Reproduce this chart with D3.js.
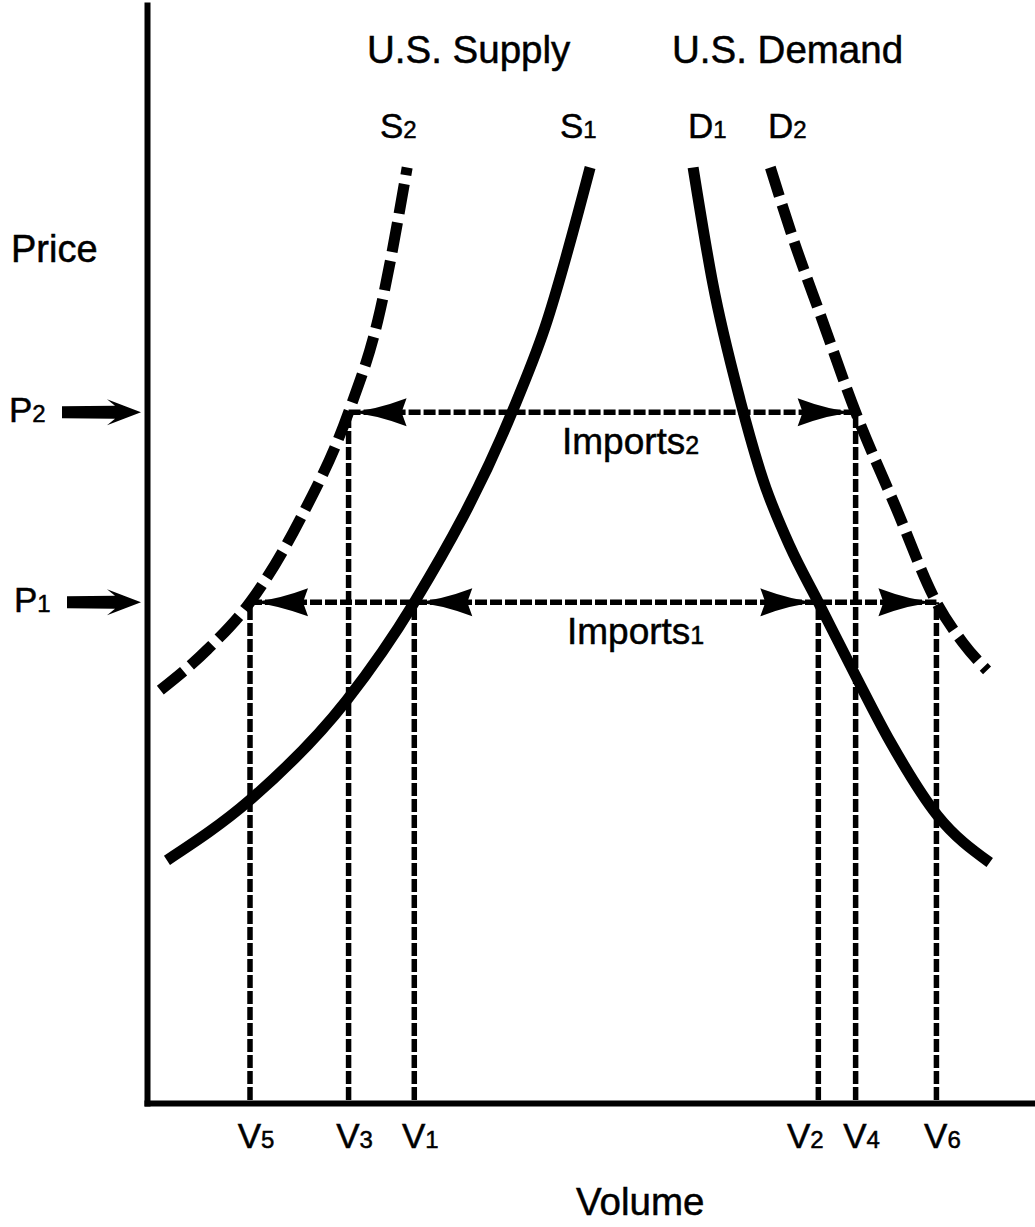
<!DOCTYPE html>
<html>
<head>
<meta charset="utf-8">
<script src="https://cdn.jsdelivr.net/npm/d3@7"></script>
<style>
  body { margin: 0; background: #fff; }
  text { font-family: "Liberation Sans", Arial, Helvetica, sans-serif; fill: #000; stroke: #000; stroke-width: 0.5px; }
</style>
</head>
<body>
<div class="chart"></div>
<script>
// curves as [volume, price]
var supply1 = [[2.25, 22.1], [11.6, 27.6], [22.5, 36.7], [30.1, 45.6], [41.1, 62.9],
               [44.8, 70.6], [49.9, 85.2]];
var supply2 = [[1.5, 37.6], [6.8, 41.3], [11.6, 45.6], [17.2, 53.1], [22.7, 62.9],
               [26.0, 71.3], [29.3, 85.2]];
var demand1 = [[61.5, 85.2], [63.7, 74.7], [66.8, 64.0], [69.4, 56.7], [72.4, 50.7],
               [75.6, 45.6], [79.8, 38.9], [83.7, 32.9], [89.0, 26.2], [94.9, 21.9]];
var demand2 = [[70.2, 85.2], [72.6, 79.1], [76.0, 71.4], [79.8, 62.9], [84.3, 54.3],
               [88.9, 45.6], [91.9, 41.9], [94.6, 39.4]];

// price levels P1, P2
var priceSubs = ["1", "2"];
var priceValues = [45.6, 62.9];

// volume marks V5 V3 V1 V2 V4 V6 and which price level each one reaches
var volumeSubs = ["5", "3", "1", "2", "4", "6"];
var volumeValues = [11.6, 22.7, 30.1, 75.6, 79.8, 88.9];
var volumeLevel = [0, 1, 0, 0, 1, 0];

var svgWidth = 1035;
var svgHeight = 1227;

var svg = d3.select(".chart")
  .append("svg")
  .attr("width", svgWidth)
  .attr("height", svgHeight);

var xScale = d3.scaleLinear().domain([0, 100]).range([147, 1035]);
var yScale = d3.scaleLinear().domain([0, 100]).range([1103, 5]);

// axes without ticks, just the heavy lines
var bottomAxis = d3.axisBottom(xScale).tickValues([]).tickSizeOuter(0);
var leftAxis = d3.axisLeft(yScale).tickValues([]).tickSizeOuter(0);

svg.append("g")
  .attr("transform", "translate(0," + yScale(0) + ")")
  .call(bottomAxis)
  .select(".domain").attr("stroke", "#000").attr("stroke-width", 6).attr("stroke-linecap", "square");

svg.append("g")
  .attr("transform", "translate(" + xScale(0) + ",0)")
  .call(leftAxis)
  .select(".domain").attr("stroke", "#000").attr("stroke-width", 6).attr("stroke-linecap", "square");

// thin dashed guide lines
var guides = svg.append("g")
  .attr("stroke", "#000")
  .attr("stroke-width", 5.5)
  .attr("fill", "none");

volumeValues.forEach(function(v, i) {
  guides.append("line")
    .attr("x1", xScale(v)).attr("x2", xScale(v))
    .attr("y1", yScale(0) - 3).attr("y2", yScale(priceValues[volumeLevel[i]]))
    .attr("stroke-dasharray", "13,3");
});

// price lines run between the outer volume marks at that level
priceValues.forEach(function(p, k) {
  var vols = volumeValues.filter(function(v, i) { return volumeLevel[i] === k; });
  guides.append("line")
    .attr("x1", xScale(d3.min(vols))).attr("x2", xScale(d3.max(vols)))
    .attr("y1", yScale(p)).attr("y2", yScale(p))
    .attr("stroke-dasharray", "12,3");
});

// curves
var line = d3.line()
  .x(function(d) { return xScale(d[0]); })
  .y(function(d) { return yScale(d[1]); })
  .curve(d3.curveMonotoneX);

[[supply1, false], [supply2, true], [demand1, false], [demand2, true]].forEach(function(c) {
  svg.append("path")
    .attr("d", line(c[0]))
    .attr("fill", "none")
    .attr("stroke", "#000")
    .attr("stroke-width", 11)
    .attr("stroke-dasharray", c[1] ? "30,9" : null);
});

// swept arrow heads on the price lines
function arrowHead(tx, ty, dir) {
  var L = 58, W = 14;
  var p = "M0,0 Q" + (-L * 0.45) + ",-2 " + (-L) + "," + (-W) +
          " L" + (-L + 5) + ",0 L" + (-L) + "," + W +
          " Q" + (-L * 0.45) + ",2 0,0 Z";
  svg.append("path")
    .attr("d", p)
    .attr("transform", "translate(" + tx + "," + ty + ") scale(" + dir + ",1)")
    .attr("fill", "#000");
}

volumeValues.forEach(function(v, i) {
  var k = volumeLevel[i];
  var vols = volumeValues.filter(function(w, j) { return volumeLevel[j] === k; });
  // tips point outward from the middle of the price line
  var mid = (d3.min(vols) + d3.max(vols)) / 2;
  arrowHead(xScale(v), yScale(priceValues[k]), v < mid ? -1 : 1);
});

// block arrows pointing at the price axis
priceValues.forEach(function(p, k) {
  var start = k === 0 ? 67 : 62;
  var ax = xScale(0) - 6;
  var d = "M" + start + ",-6 L" + (ax - 26) + ",-6.5 L" + (ax - 34) + ",-13 L" + ax + ",0 L" +
          (ax - 34) + ",13 L" + (ax - 26) + ",6.5 L" + start + ",6 Z";
  svg.append("path")
    .attr("d", d)
    .attr("transform", "translate(0," + yScale(p) + ")")
    .attr("fill", "#000");

  var t = svg.append("text")
    .attr("x", k === 0 ? 14 : 9)
    .attr("y", yScale(p) + 10)
    .style("font-size", "35px");
  t.append("tspan").text("P");
  t.append("tspan").style("font-size", "24px").text(priceSubs[k]);
});

// volume labels
volumeValues.forEach(function(v, i) {
  var nudge = volumeSubs[i] === "2" ? -13 : 6;
  var t = svg.append("text")
    .attr("x", xScale(v) + nudge)
    .attr("y", 1148)
    .attr("text-anchor", "middle")
    .style("font-size", "35px");
  t.append("tspan").text("V");
  t.append("tspan").style("font-size", "24px").text(volumeSubs[i]);
});

// curve labels
var curveLabels = [["S", "2", 380], ["S", "1", 560], ["D", "1", 688], ["D", "2", 768]];
curveLabels.forEach(function(c) {
  var t = svg.append("text")
    .attr("x", c[2])
    .attr("y", 138)
    .style("font-size", "35px");
  t.append("tspan").text(c[0]);
  t.append("tspan").style("font-size", "24px").text(c[1]);
});

svg.append("text").attr("x", 367).attr("y", 63).style("font-size", "38.5px").text("U.S. Supply");
svg.append("text").attr("x", 672).attr("y", 63).style("font-size", "38.5px").text("U.S. Demand");
svg.append("text").attr("x", 11).attr("y", 262).style("font-size", "38px").text("Price");
svg.append("text").attr("x", 576).attr("y", 1215).style("font-size", "38.5px").text("Volume");

var imp2 = svg.append("text").attr("x", 562).attr("y", yScale(priceValues[1]) + 42).style("font-size", "37px");
imp2.append("tspan").text("Imports");
imp2.append("tspan").style("font-size", "25px").text("2");

var imp1 = svg.append("text").attr("x", 567).attr("y", yScale(priceValues[0]) + 42).style("font-size", "37px");
imp1.append("tspan").text("Imports");
imp1.append("tspan").style("font-size", "25px").text("1");
</script>
</body>
</html>
